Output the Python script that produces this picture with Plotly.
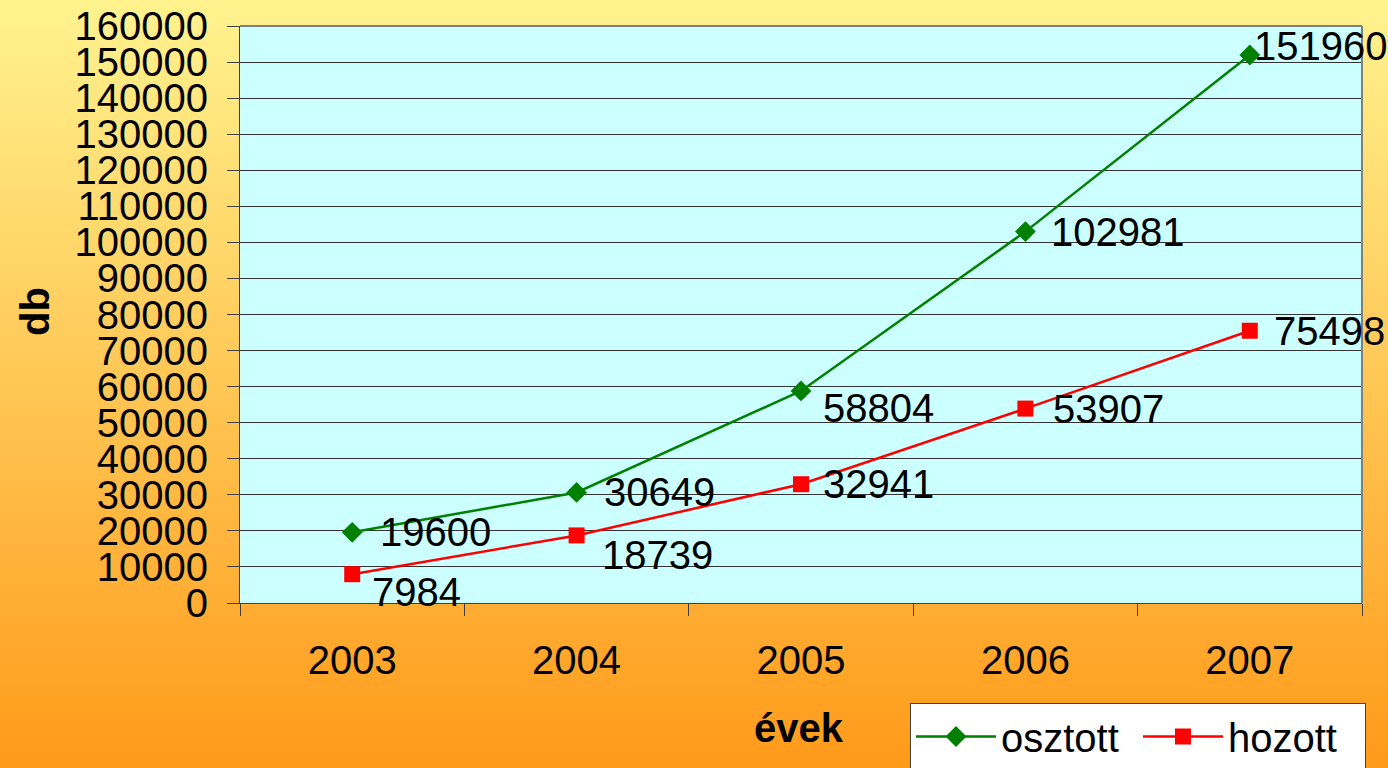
import plotly.graph_objects as go

years = ["2003", "2004", "2005", "2006", "2007"]
osztott = [19600, 30649, 58804, 102981, 151960]
hozott = [7984, 18739, 32941, 53907, 75498]
y_ticks = list(range(0, 160001, 10000))

W, H = 1388, 768
ML, MR, MT, MB = 240, 26, 26, 165
PW, PH = W - ML - MR, H - MT - MB

def px_to_paper_x(px):
    return (px - ML) / PW

def px_to_paper_y(py):
    return (H - MB - py) / PH

fig = go.Figure()

fig.add_trace(go.Scatter(
    x=years, y=osztott, name="osztott", mode="lines+markers",
    line=dict(color="#008000", width=2.5),
    marker=dict(symbol="diamond", size=16, color="#008000"),
))
fig.add_trace(go.Scatter(
    x=years, y=hozott, name="hozott", mode="lines+markers",
    line=dict(color="#FF0000", width=2.5),
    marker=dict(symbol="square", size=16, color="#FF0000"),
))

# gradient background strips
shapes = []
N = 96
top = (255, 243, 143)
bot = (255, 154, 26)
for i in range(N):
    t = (i + 0.5) / N
    c = tuple(round(top[k] + (bot[k] - top[k]) * t) for k in range(3))
    py0 = i * H / N - 0.6
    py1 = (i + 1) * H / N + 0.6
    shapes.append(dict(
        type="rect", xref="paper", yref="paper", layer="below",
        x0=px_to_paper_x(-2), x1=px_to_paper_x(W + 2),
        y0=px_to_paper_y(py1), y1=px_to_paper_y(py0),
        fillcolor="rgb(%d,%d,%d)" % c, line=dict(width=0),
    ))
# plot area background
shapes.append(dict(type="rect", xref="paper", yref="paper", layer="below",
                   x0=0, x1=1, y0=0, y1=1, fillcolor="#CCFFFF", line=dict(width=0)))
# top & right border
shapes.append(dict(type="line", xref="paper", yref="paper", layer="above",
                   x0=0, x1=1, y0=1, y1=1, line=dict(color="#808080", width=2)))
shapes.append(dict(type="line", xref="paper", yref="paper", layer="above",
                   x0=1, x1=1, y0=0, y1=1, line=dict(color="#808080", width=2)))

# data labels (x given as category index)
lab_font = dict(family="Liberation Sans, Arial", size=40, color="black")
os_shift = [(26, 0), (25, 0), (20, -17), (24, 0), (2, 9)]
ho_shift = [(18, -18), (23, -20), (20, 0), (26, 0), (22, 0)]
annotations = []
for i, v in enumerate(osztott):
    annotations.append(dict(x=i, y=v, xref="x", yref="y", text=str(v),
                            showarrow=False, xanchor="left", yanchor="middle",
                            xshift=os_shift[i][0], yshift=os_shift[i][1], font=lab_font))
for i, v in enumerate(hozott):
    annotations.append(dict(x=i, y=v, xref="x", yref="y", text=str(v),
                            showarrow=False, xanchor="left", yanchor="middle",
                            xshift=ho_shift[i][0], yshift=ho_shift[i][1], font=lab_font))
# axis titles
annotations.append(dict(x=px_to_paper_x(35), y=px_to_paper_y(312), xref="paper", yref="paper",
                        xanchor="center", yanchor="middle",
                        text="<b>db</b>", textangle=-90, showarrow=False,
                        font=dict(family="Liberation Sans, Arial", size=40, color="black")))
annotations.append(dict(x=px_to_paper_x(799), y=px_to_paper_y(728), xref="paper", yref="paper",
                        xanchor="center", yanchor="middle",
                        text="<b>évek</b>", showarrow=False,
                        font=dict(family="Liberation Sans, Arial", size=40, color="black")))

fig.update_layout(
    width=W, height=H,
    margin=dict(l=ML, r=MR, t=MT, b=MB, pad=0, autoexpand=False),
    paper_bgcolor="#FFC65A",
    plot_bgcolor="rgba(0,0,0,0)",
    font=dict(family="Liberation Sans, Arial", size=40, color="black"),
    shapes=shapes,
    annotations=annotations,
    showlegend=True,
    legend=dict(orientation="h", x=px_to_paper_x(910), xanchor="left",
                y=px_to_paper_y(703), yanchor="top",
                bgcolor="white", bordercolor="#404040", borderwidth=1,
                font=dict(size=40), itemwidth=80, entrywidth=132),
    xaxis=dict(type="category", range=[-0.5, 4.5], tickson="boundaries",
               ticks="outside", ticklen=12, tickcolor="#404040", tickwidth=1,
               showline=True, linecolor="#404040", linewidth=1,
               showgrid=False, ticklabelstandoff=22, automargin=False,
               tickfont=dict(size=40)),
    yaxis=dict(range=[0, 160000], tickmode="array", tickvals=y_ticks,
               ticktext=[str(v) for v in y_ticks],
               ticks="outside", ticklen=12, tickcolor="#404040", tickwidth=1,
               showline=True, linecolor="#404040", linewidth=1,
               showgrid=True, gridcolor="#333333", gridwidth=1,
               zeroline=False, ticklabelstandoff=11, automargin=False,
               tickfont=dict(size=40)),
)

fig.write_html("out.html", config={"displayModeBar": False},
               post_script="document.body.style.margin='0';document.body.style.overflow='hidden';")
